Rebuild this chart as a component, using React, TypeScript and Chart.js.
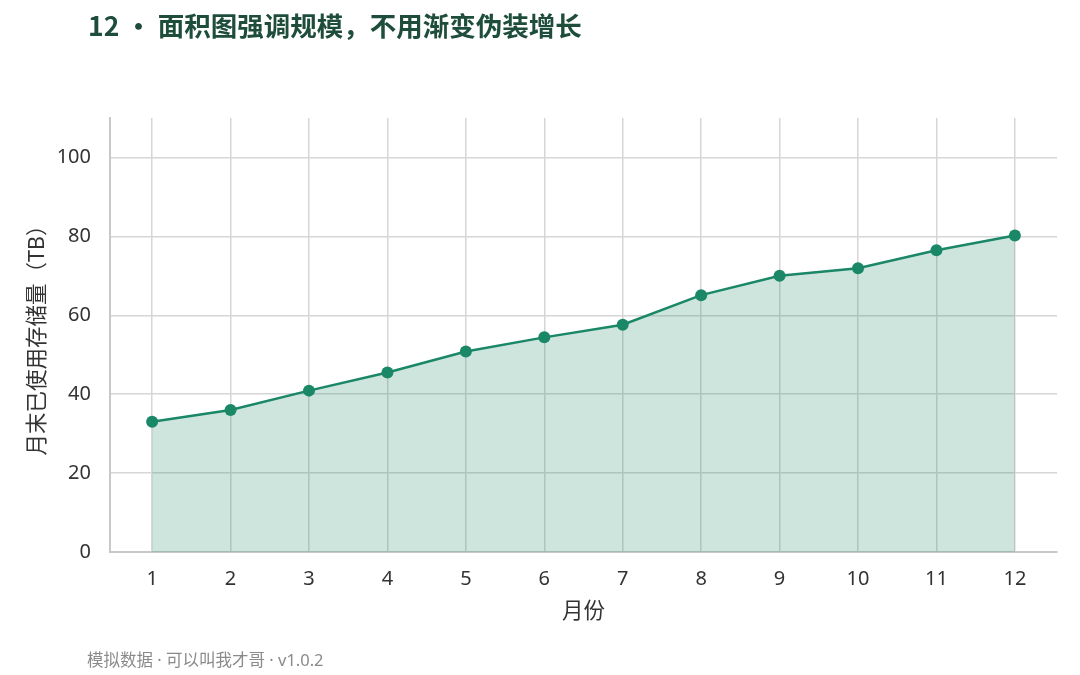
import React, { useEffect, useRef } from "react";
import { Chart, registerables } from "chart.js";

Chart.register(...registerables);

const TITLE = "12 • 面积图强调规模，不用渐变伪装增长";
const FOOTER = "模拟数据 · 可以叫我才哥 · v1.0.2";
const X_TITLE = "月份";
const Y_TITLE = "月末已使用存储量（TB）";

const months = [1, 2, 3, 4, 5, 6, 7, 8, 9, 10, 11, 12];
const storageTB = [33.0, 36.0, 40.9, 45.5, 50.8, 54.4, 57.6, 65.1, 70.0, 71.9, 76.5, 80.2];
const yTicks = [0, 20, 40, 60, 80, 100];

const FONT = "'Noto Sans', 'Noto Sans CJK SC', sans-serif";
const CJK_FONT = "'Noto Sans CJK SC', 'Noto Sans', sans-serif";

export default function App() {
  const ref = useRef<HTMLCanvasElement | null>(null);

  useEffect(() => {
    document.body.style.margin = "0";
    const canvas = ref.current;
    if (!canvas) return;
    const chart = new Chart(canvas, {
      type: "line",
      data: {
        datasets: [
          {
            data: months.map((m, i) => ({ x: m, y: storageTB[i] })),
            borderColor: "#1a8766",
            backgroundColor: "rgba(26,135,102,0.22)",
            borderWidth: 2.5,
            fill: "origin",
            tension: 0,
            pointRadius: 6,
            pointHoverRadius: 6,
            pointBackgroundColor: "#1a8766",
            pointBorderColor: "#1a8766",
            pointBorderWidth: 0,
          },
        ],
      },
      options: {
        animation: false,
        responsive: false,
        maintainAspectRatio: false,
        layout: { padding: { top: 118, right: 23, bottom: 50, left: 0 } },
        plugins: {
          legend: { display: false },
          tooltip: { enabled: false },
          title: { display: false },
        },
        scales: {
          x: {
            type: "linear",
            min: 0.463,
            max: 12.537,
            afterBuildTicks: (scale: any) => {
              scale.ticks = months.map((m) => ({ value: m }));
            },
            afterFit: (scale: any) => {
              scale.height = 73;
            },
            ticks: {
              padding: 15,
              color: "#333333",
              font: { family: FONT, size: 20 },
              callback: (v: any) => String(v),
              maxRotation: 0,
              autoSkip: false,
            },
            grid: { color: "#d6d6d6", lineWidth: 1.5, drawTicks: false },
            border: { color: "#c8c8c8", width: 2 },
            title: {
              display: true,
              text: X_TITLE,
              color: "#333333",
              font: { family: FONT, size: 21.5 },
              padding: { top: 0, bottom: 0 },
            },
          },
          y: {
            min: 0,
            max: 110,
            afterBuildTicks: (scale: any) => {
              scale.ticks = yTicks.map((v) => ({ value: v }));
            },
            afterFit: (scale: any) => {
              scale.width = 110;
            },
            ticks: {
              padding: 19,
              color: "#333333",
              font: { family: FONT, size: 20 },
            },
            grid: { color: "#d6d6d6", lineWidth: 1.5, drawTicks: false },
            border: { color: "#c8c8c8", width: 2 },
            title: {
              display: true,
              text: Y_TITLE,
              color: "#333333",
              font: { family: FONT, size: 21.5 },
              padding: { top: 25, bottom: 0 },
            },
          },
        },
      },
    } as any);
    return () => chart.destroy();
  }, []);

  return (
    <div style={{ position: "relative", width: 1080, height: 675, background: "#ffffff", overflow: "hidden" }}>
      <canvas ref={ref} width={1080} height={675} style={{ position: "absolute", left: 0, top: 0, width: 1080, height: 675 }} />
      <div
        style={{
          position: "absolute",
          left: 88,
          top: 6,
          fontFamily: CJK_FONT,
          fontWeight: 700,
          fontSize: 26.5,
          lineHeight: "38px",
          color: "#1e4d3b",
          whiteSpace: "nowrap",
        }}
      >
        {TITLE}
      </div>
      <div
        style={{
          position: "absolute",
          left: 87,
          top: 649,
          fontFamily: FONT,
          fontSize: 16.5,
          lineHeight: "22px",
          color: "#8a8a8a",
          whiteSpace: "nowrap",
        }}
      >
        {FOOTER}
      </div>
    </div>
  );
}
